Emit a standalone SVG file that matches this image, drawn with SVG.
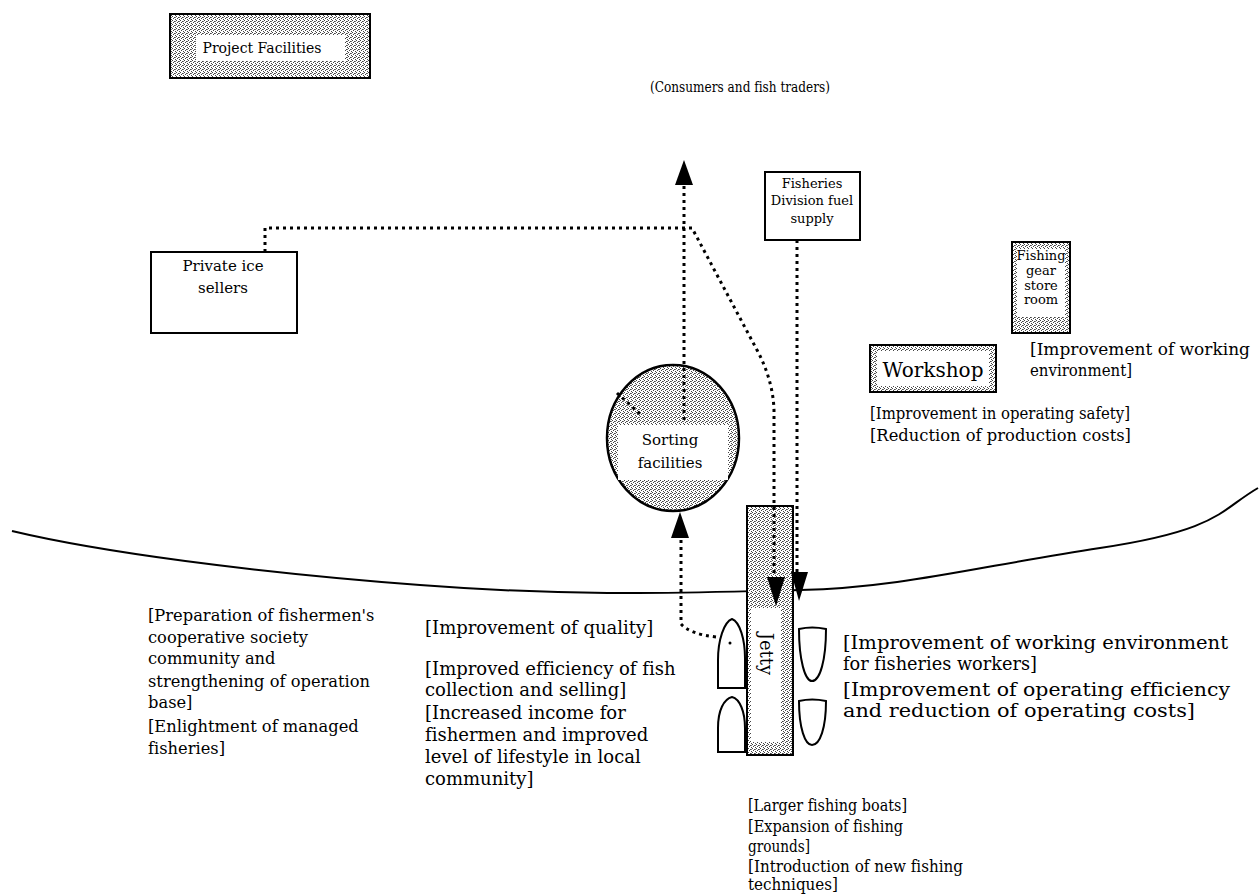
<svg xmlns="http://www.w3.org/2000/svg" width="1259" height="894" viewBox="0 0 1259 894">
<defs>
<pattern id="st" width="4" height="4" patternUnits="userSpaceOnUse">
<rect width="4" height="4" fill="#fff"/>
<rect x="0" y="0" width="1" height="1" fill="#444"/>
<rect x="2" y="1" width="1" height="1" fill="#444"/>
<rect x="1" y="2" width="1" height="1" fill="#444"/>
<rect x="3" y="3" width="1" height="1" fill="#444"/>
<rect x="3" y="1" width="1" height="1" fill="#777"/>
</pattern>
</defs>
<style>
text{font-family:"DejaVu Serif","Liberation Serif",serif;fill:#000;font-variant-ligatures:none}
.c{text-anchor:middle}
.box{fill:#fff;stroke:#000;stroke-width:2}
.stb{fill:url(#st);stroke:#000;stroke-width:2}
.in{fill:#fff;stroke:none}
.dot{fill:none;stroke:#000;stroke-width:3;stroke-dasharray:3 4}
.head{fill:#000}
.boat{fill:#fff;stroke:#000;stroke-width:2}
.l{font-size:16.3px}
.m{font-size:18px}
.r{font-size:18px}
.b{font-size:16px}
.w{font-size:17px}
</style>
<rect width="1259" height="894" fill="#fff"/>

<path d="M12 531 C100 552 250 572 420 585 S700 592 800 590 S980 566 1100 548 S1220 510 1258 488" fill="none" stroke="#000" stroke-width="2"/>

<g id="project-facilities">
<rect class="stb" x="170" y="14" width="200" height="64" stroke-width="1.5"/>
<rect class="in" x="196" y="35" width="149" height="26"/>
<text class="c" x="262" y="53" font-size="14">Project Facilities</text>
</g>

<g id="consumers">
<text x="650" y="92" font-size="15" textLength="180" lengthAdjust="spacingAndGlyphs">(Consumers and fish traders)</text>
</g>

<g id="private-ice">
<rect class="box" x="151" y="252" width="146" height="81"/>
<text class="c" x="223" y="271" font-size="15">Private ice</text>
<text class="c" x="223" y="293" font-size="15">sellers</text>
</g>

<g id="fuel-supply">
<rect class="box" x="765" y="172" width="95" height="68"/>
<text class="c" x="812" y="188" font-size="13">Fisheries</text>
<text class="c" x="812" y="205" font-size="13">Division fuel</text>
<text class="c" x="812" y="223" font-size="13">supply</text>
</g>

<g id="gear-store">
<rect class="stb" x="1012" y="242" width="58" height="91"/>
<rect class="in" x="1017" y="249" width="48" height="68"/>
<text class="c" x="1041" y="260" font-size="13">Fishing</text>
<text class="c" x="1041" y="275" font-size="13">gear</text>
<text class="c" x="1041" y="290" font-size="13">store</text>
<text class="c" x="1041" y="304" font-size="13">room</text>
<text class="w" x="1030" y="355" textLength="220" lengthAdjust="spacingAndGlyphs">[Improvement of working</text>
<text class="w" x="1030" y="376" textLength="102" lengthAdjust="spacingAndGlyphs">environment]</text>
</g>

<g id="workshop">
<rect class="stb" x="870" y="345" width="126" height="47" stroke-width="2.5"/>
<rect class="in" x="877" y="351" width="112" height="35"/>
<text class="c" x="933" y="377" font-size="20">Workshop</text>
<text class="w" x="870" y="419" textLength="260" lengthAdjust="spacingAndGlyphs">[Improvement in operating safety]</text>
<text class="w" x="870" y="441" textLength="261" lengthAdjust="spacingAndGlyphs">[Reduction of production costs]</text>
</g>

<g id="sorting">
<ellipse cx="673" cy="438" rx="66" ry="73" fill="url(#st)" stroke="#000" stroke-width="2.5"/>
<rect class="in" x="618" y="425" width="110" height="55"/>
<text class="c" x="670" y="445" font-size="15">Sorting</text>
<text class="c" x="670" y="468" font-size="15">facilities</text>
</g>

<g id="jetty">
<rect class="stb" x="747" y="506" width="46" height="249"/>
<rect class="in" x="751" y="608" width="30" height="134"/>
<text class="c" transform="translate(766 654) rotate(90)" y="6" font-size="18">Jetty</text>
</g>

<g id="boats">
<path class="boat" d="M718 688 L718 660 C718 640 724 622 732 619 C740 622 745 640 745 658 L745 688 Z"/>
<circle cx="730" cy="643" r="1.5" fill="#000"/>
<path class="boat" d="M718 752 L718 728 C718 710 724 699 732 697 C740 699 745 712 745 728 L745 752 Z"/>
<path class="boat" d="M799 629 Q812 626 826 629 C826 660 820 681 812 681 C805 681 799 660 799 629 Z"/>
<path class="boat" d="M799 701 Q812 698 826 701 C826 728 820 745 812 745 C805 745 799 728 799 701 Z"/>
</g>

<g id="connectors">
<path class="dot" d="M684 420 V185"/>
<path class="head" d="M684 160 L693 185 L675 185 Z"/>
<path class="dot" d="M265 252 V228 H692 L757 350 Q773 380 774 410 V578"/>
<path class="head" d="M776 606 L767 577 L785 577 Z"/>
<path class="dot" d="M797 240 V572"/>
<path class="head" d="M799 601 L791 572 L808 572 Z"/>
<path class="dot" d="M617 393 L642 416"/>
<path class="dot" d="M716 637 Q690 634 681 624 V538"/>
<path class="head" d="M680 512 L689 538 L671 538 Z"/>
</g>

<g id="left-notes">
<text class="l" x="148" y="621">[Preparation of fishermen's</text>
<text class="l" x="148" y="643">cooperative society</text>
<text class="l" x="148" y="664">community and</text>
<text class="l" x="148" y="687">strengthening of operation</text>
<text class="l" x="148" y="708">base]</text>
<text class="l" x="148" y="732">[Enlightment of managed</text>
<text class="l" x="148" y="754">fisheries]</text>
</g>

<g id="middle-notes">
<text class="m" x="425" y="634">[Improvement of quality]</text>
<text class="m" x="425" y="675">[Improved efficiency of fish</text>
<text class="m" x="425" y="696">collection and selling]</text>
<text class="m" x="425" y="719">[Increased income for</text>
<text class="m" x="425" y="741">fishermen and improved</text>
<text class="m" x="425" y="763">level of lifestyle in local</text>
<text class="m" x="425" y="785">community]</text>
</g>

<g id="right-notes">
<text class="r" x="843" y="649" textLength="385" lengthAdjust="spacingAndGlyphs">[Improvement of working environment</text>
<text class="r" x="843" y="670" textLength="194" lengthAdjust="spacingAndGlyphs">for fisheries workers]</text>
<text class="r" x="843" y="696" textLength="387" lengthAdjust="spacingAndGlyphs">[Improvement of operating efficiency</text>
<text class="r" x="843" y="717" textLength="352" lengthAdjust="spacingAndGlyphs">and reduction of operating costs]</text>
</g>

<g id="bottom-notes">
<text class="b" x="748" y="811" textLength="159" lengthAdjust="spacingAndGlyphs">[Larger fishing boats]</text>
<text class="b" x="748" y="832" textLength="155" lengthAdjust="spacingAndGlyphs">[Expansion of fishing</text>
<text class="b" x="748" y="852" textLength="62" lengthAdjust="spacingAndGlyphs">grounds]</text>
<text class="b" x="748" y="872" textLength="215" lengthAdjust="spacingAndGlyphs">[Introduction of new fishing</text>
<text class="b" x="748" y="890" textLength="90" lengthAdjust="spacingAndGlyphs">techniques]</text>
</g>
</svg>
